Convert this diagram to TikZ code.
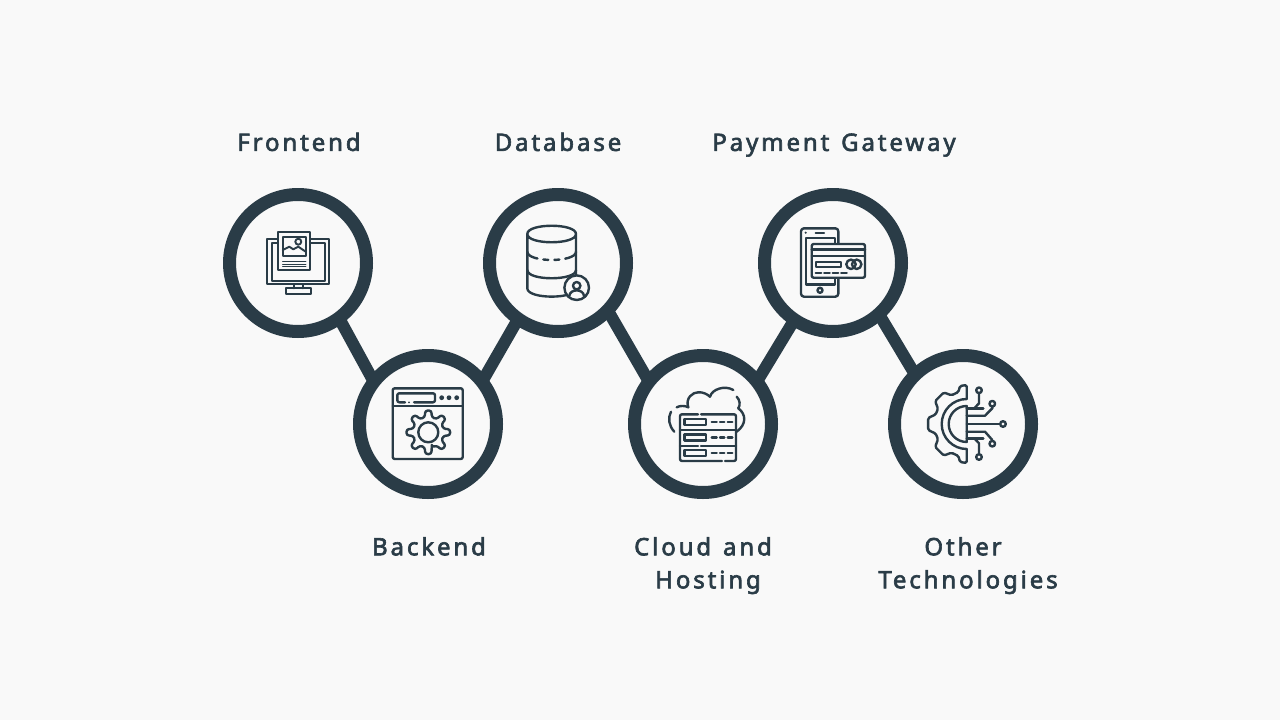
\documentclass[tikz,border=0pt]{standalone}
\usepackage{fontspec}
\setmainfont{Noto Sans}[LetterSpace=12,FakeBold=2.6,WordSpace=1.3]
\usetikzlibrary{positioning,calc}
\definecolor{slate}{HTML}{2A3C47}
\definecolor{paper}{HTML}{F9F9F9}
\tikzset{
  hub/.style={circle,draw=slate,fill=paper,line width=13pt,minimum size=137pt,inner sep=0pt},
  link/.style={draw=slate,line width=12pt,shorten <=-5pt,shorten >=-5pt},
  caption/.style={text=slate,font=\fontsize{24}{33}\selectfont,align=center,inner sep=0pt},
  icon/.style={draw=slate,line width=2.4pt,line cap=round,line join=round},
  pad/.style={icon,fill=paper},
}
\begin{document}
\begin{tikzpicture}[x=1pt,y=-1pt]
  \path[fill=paper] (0,0) rectangle (1280,720);
  \useasboundingbox (0,0) rectangle (1280,720);
  % hubs
  \node[hub] (frontend) at (298,263) {};
  \node[hub] (backend) at ($(frontend)+(130,161)$) {};
  \node[hub] (database) at ($(backend)+(130,-161)$) {};
  \node[hub] (cloud) at ($(database)+(145,161)$) {};
  \node[hub] (payment) at ($(cloud)+(130,-161)$) {};
  \node[hub] (other) at ($(payment)+(130,161)$) {};
  \draw[link] (frontend.-54.5) -- (backend.140);
  \draw[link] (backend.40) -- (database.-125);
  \draw[link] (database.-45) -- (cloud.140);
  \draw[link] (cloud.40) -- (payment.-124);
  \draw[link] (payment.-49) -- (other.133);
  % labels
  \node[caption,above=27pt of frontend,xshift=1pt] (frontendlabel) {Frontend\strut};
  \node[caption,above=27pt of database] (databaselabel) {Database\strut};
  \node[caption,above=27pt of payment,xshift=1pt] (paymentlabel) {Payment Gateway\strut};
  \node[caption,below=33pt of backend,xshift=1pt] (backendlabel) {Backend\strut};
  \node[caption,below=33pt of cloud,xshift=5pt] (cloudlabel) {Cloud and\hspace*{10pt}\strut\\Hosting\strut};
  \node[caption,below=33pt of other,xshift=5pt] (otherlabel) {Other\hspace*{10pt}\strut\\Technologies\strut};
  % frontend icon
  \begin{scope}[shift={(frontend.center)},icon/.append style={line width=1.9pt}]
    \draw[icon] (-30.7,-23.7) rectangle (30.7,21.3);
    \draw[icon] (-26.3,-20.3) rectangle (26.7,17.7);
    \draw[icon,fill=paper] (-19.7,-31.3) rectangle (12,7.3);
    \draw[icon] (-15.3,-26.3) rectangle (7.7,-7.3);
    \draw[icon] (0.3,-21.3) circle (3);
    \draw[icon] (-15.3,-13) -- (-8.7,-16.3) -- (-4.7,-13.7) -- (0.3,-16.3) -- (7.7,-11.3);
    \foreach \y in {-1.3,1.2,3.7}
      \draw[icon,line width=1.3pt] (-15.3,\y) -- (7.7,\y);
    \draw[icon] (-4,21.3) -- (-4,25.3);
    \draw[icon] (4.7,21.3) -- (4.7,25.3);
    \draw[icon] (-12.3,25.3) rectangle (12.7,30.7);
  \end{scope}
  % backend icon
  \begin{scope}[shift={(backend.center)}]
    \draw[icon,rounded corners=2pt] (-35.3,-35.7) rectangle (34.7,35);
    \draw[icon] (-35.3,-18.3) -- (34.7,-18.3);
    \draw[icon,rounded corners=2pt] (-23,-21.7) -- (-30.7,-21.7) -- (-30.7,-30.7) -- (7,-30.7) -- (7,-21.7) -- (-14,-21.7);
    \fill[slate] (-19,-21.7) circle (1);
    \foreach \x in {13.7,21,28.7}
      \fill[slate] (\x,-26.3) circle (2.4);
    \draw[icon] (0.3,8.3) circle (10);
    \begin{scope}[shift={(0.3,8.3)}]
      \draw[icon,rounded corners=2.5pt] (90-13:15.5)
        \foreach \a in {90,135,180,225,270,315,360,405}
          { -- (\a-13:15.5) -- (\a-8:22) -- (\a+8:22) -- (\a+13:15.5) } -- cycle;
    \end{scope}
  \end{scope}
  % database icon
  \begin{scope}[shift={(database.center)}]
    \draw[icon] (-30.7,-29) .. controls (-30.7,-40) and (18,-40) .. (18,-29)
      .. controls (18,-18) and (-30.7,-18) .. (-30.7,-29) -- (-30.7,25.3)
      .. controls (-30.7,36.4) and (18,36.4) .. (18,25.3) -- (18,-29);
    \draw[icon,dash pattern=on 13pt off 6pt on 5pt off 6pt on 5pt off 6pt on 20pt] (-30.7,-11.3)
      .. controls (-30.7,-0.3) and (18,-0.3) .. (18,-11.3);
    \draw[icon] (-30.7,7) .. controls (-30.7,18) and (18,18) .. (18,7);
    \draw[pad] (18.7,24.7) circle (12.3);
    \draw[icon] (18.7,22.7) circle (3.7);
    \draw[icon] (11.3,33) .. controls (12,25.5) and (25.4,25.5) .. (26,33);
  \end{scope}
  % cloud icon
  \begin{scope}[shift={(cloud.center)}]
    \draw[icon] (-32,-12.3) .. controls (-35.5,-6) and (-34,2) .. (-28.7,7.7);
    \draw[icon] (-26.3,-16.7) .. controls (-23,-18.5) and (-18,-18.5) .. (-14.7,-16.7);
    \draw[icon] (-14.7,-16.7) .. controls (-18,-26) and (-10,-32) .. (-4.7,-31.7)
      .. controls (0,-32) and (4,-30) .. (7,-27.3);
    \draw[icon] (7,-27.3) .. controls (9,-35) and (22,-39) .. (30.3,-34);
    \draw[icon] (33.7,-27.3) .. controls (37,-24) and (37.5,-19) .. (35.3,-15.7);
    \draw[icon] (35.3,-15.7) .. controls (43,-10) and (44,0) .. (33.7,7.7);
    \draw[icon,rounded corners=2pt] (-2,-9.7) -- (33,-9.7) -- (33,37) -- (22,37);
    \draw[icon,rounded corners=2pt] (19,37) -- (-23,37) -- (-23,-9.7) -- (-5,-9.7);
    \draw[icon] (-23,6) -- (33,6);
    \draw[icon] (-23,21.7) -- (-5,21.7);
    \draw[icon] (-2,21.7) -- (33,21.7);
    \foreach \y in {-5,10.3,26} {
      \draw[icon] (-18.7,\y) rectangle (2.7,\y+6.2);
      \draw[icon] (8.7,\y+3.2) -- (13.7,\y+3.2);
      \draw[icon] (17,\y+3.2) -- (21.3,\y+3.2);
      \draw[icon] (24.7,\y+3.2) -- (29.3,\y+3.2);
    }
  \end{scope}
  % payment icon
  \begin{scope}[shift={(payment.center)}]
    \draw[icon,rounded corners=3pt] (-32,-34.7) rectangle (5.3,33.7);
    \draw[icon] (-27.3,-25.3) rectangle (2,21.3);
    \draw[icon] (-17.3,-30.3) -- (-9,-30.3);
    \fill[slate] (-27.3,-30.3) circle (1.2);
    \draw[icon] (-13,27.3) circle (2.5);
    \draw[pad,rounded corners=2pt] (-21.3,-19) rectangle (32,14.7);
    \draw[icon] (-21.3,-13.7) -- (32,-13.7);
    \draw[icon] (-21.3,-7.3) -- (32,-7.3);
    \draw[icon] (-17,-1.3) rectangle (8,3.7);
    \draw[icon] (18,1.3) circle (4.7);
    \draw[icon] (23.7,1.3) circle (4.7);
    \foreach \x in {-17.3,-8.8,-0.3,8.2}
      \draw[icon] (\x,9.7) -- (\x+5.5,9.7);
  \end{scope}
  % other icon
  \begin{scope}[shift={(other.center)}]
    \begin{scope}[shift={(3.7,0)}]
      \draw[icon,rounded corners=1.5pt] (0,-25) -- (0,-39) -- (-6.7,-38) -- (-8.3,-32)
        \foreach \a in {225,180,135}
          { -- (\a+17:32.5) -- (\a+9:39) -- (\a-9:39) -- (\a-17:32.5) }
        -- (-8.3,32) -- (-6.7,38) -- (0,39) -- (0,25);
      \draw[icon] (0,-25) .. controls (-13.8,-25) and (-25,-13.8) .. (-25,0)
        .. controls (-25,13.8) and (-13.8,25) .. (0,25);
      \draw[icon] (0,-18) .. controls (-10,-18) and (-18,-10) .. (-18,0)
        .. controls (-18,10) and (-10,18) .. (0,18) -- cycle;
    \end{scope}
    \draw[icon] (20.3,-15.7) -- (3.7,-15.7);
    \draw[icon] (11.3,-15.7) -- (16,-20.7) -- (16,-30.7);
    \draw[icon] (3.7,-8.3) -- (22,-8.3) -- (29.3,-15.7) -- (29.3,-17.3);
    \draw[icon] (3.7,0) -- (37,0);
    \draw[icon] (3.7,7.7) -- (22,7.7) -- (29.3,16);
    \draw[icon] (20.3,14.3) -- (3.7,14.3);
    \draw[icon] (11.3,14.3) -- (16,19.3) -- (16,29.7);
    \draw[pad] (16,-33.7) circle (2.8);
    \draw[pad] (29.3,-20.3) circle (2.8);
    \draw[pad] (40,0) circle (2.8);
    \draw[pad] (29.3,19.7) circle (2.8);
    \draw[pad] (16,33) circle (2.8);
  \end{scope}
\end{tikzpicture}
\end{document}
